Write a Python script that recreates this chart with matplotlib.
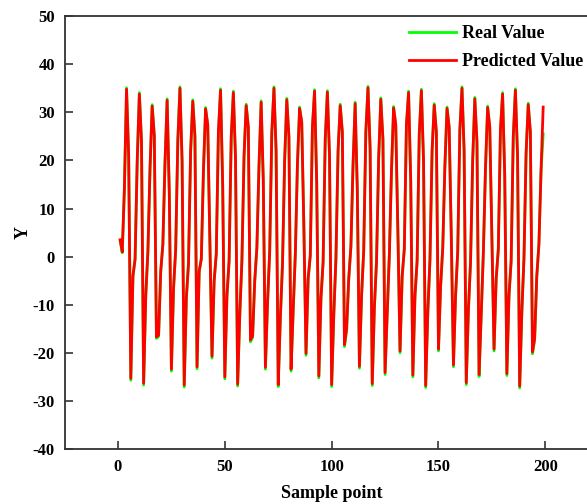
import matplotlib
matplotlib.use("Agg")
import matplotlib.pyplot as plt

sample = list(range(1, 200))

predicted = [
    3.5, 1.0, 14.0, 34.8, 21.0, -25.3, -4.0, -0.6, 20.0, 33.8,
    24.0, -26.3, -8.0, 1.0, 18.5, 31.3, 25.0, -16.7, -16.3, -3.0,
    2.5, 19.5, 32.5, 13.5, -23.4, -6.5, 1.5, 24.0, 35.0, 20.0,
    -26.7, -8.5, -1.5, 22.0, 32.3, 25.0, -22.9, -3.0, -0.5, 18.0,
    30.7, 27.5, 3.0, -20.7, -5.0, 0.5, 26.0, 34.6, 15.0, -25.0,
    -8.0, -1.0, 25.0, 34.1, 20.5, -26.5, -12.0, -0.8, 21.0, 31.4,
    27.0, -17.3, -16.5, -5.0, 1.8, 19.0, 32.1, 16.0, -23.0, -9.5,
    1.0, 26.0, 35.0, 22.0, -26.6, -12.5, -1.5, 20.0, 32.6, 25.0,
    -23.4, -11.0, 0.5, 19.5, 30.8, 28.0, 6.0, -20.1, -4.5, 0.2,
    27.0, 34.4, 15.5, -24.8, -8.5, -1.2, 24.5, 34.2, 21.0, -26.6,
    -12.0, -0.5, 22.0, 31.4, 26.0, -18.3, -15.0, -4.5, 2.0, 19.0,
    31.8, 14.0, -22.8, -8.0, 1.2, 26.0, 35.1, 22.5, -26.4, -10.5,
    -1.0, 20.5, 32.7, 24.5, -24.1, -12.0, 0.3, 18.0, 30.9, 27.5,
    5.0, -19.6, -4.0, 1.5, 27.5, 34.1, 16.0, -24.6, -8.0, -1.0,
    25.5, 34.5, 20.0, -26.8, -11.5, -0.8, 22.0, 31.5, 26.0, -19.2,
    -6.0, 1.8, 19.0, 30.8, 27.0, 4.0, -22.5, -8.0, 1.0, 26.5,
    35.0, 22.0, -26.2, -11.0, -1.2, 20.0, 32.8, 24.0, -24.5, -12.0,
    0.8, 18.5, 31.0, 27.0, 3.5, -19.2, -4.5, 1.5, 26.5, 33.8,
    17.0, -24.3, -8.0, -1.0, 25.0, 34.6, 21.0, -26.9, -11.5, -0.5,
    21.5, 31.6, 26.0, -19.8, -17.0, -4.0, 2.5, 18.0, 31.1,
]

real = [
    3.3, 0.8, 14.3, 35.1, 20.8, -25.7, -4.2, -0.4, 19.7, 34.1,
    23.8, -26.7, -8.3, 1.2, 18.2, 31.6, 25.3, -17.0, -16.6, -3.2,
    2.7, 19.2, 32.8, 13.2, -23.8, -6.8, 1.3, 24.3, 35.3, 19.7,
    -27.1, -8.7, -1.3, 21.7, 32.6, 25.3, -23.3, -3.3, -0.3, 17.7,
    31.0, 27.2, 3.3, -21.1, -5.3, 0.7, 25.7, 34.9, 14.7, -25.4,
    -8.3, -0.8, 24.7, 34.4, 20.2, -26.9, -12.3, -0.6, 20.7, 31.7,
    26.7, -17.7, -16.8, -5.2, 2.0, 18.7, 32.4, 15.7, -23.4, -9.8,
    1.2, 25.7, 35.3, 21.7, -27.0, -12.8, -1.3, 19.7, 32.9, 24.7,
    -23.8, -11.3, 0.7, 19.2, 31.1, 27.7, 6.3, -20.5, -4.8, 0.4,
    26.7, 34.7, 15.2, -25.2, -8.8, -1.0, 24.2, 34.5, 20.7, -27.0,
    -12.3, -0.3, 21.7, 31.7, 25.7, -18.7, -15.3, -4.7, 2.2, 18.7,
    32.1, 13.7, -23.2, -8.3, 1.4, 25.7, 35.4, 22.2, -26.8, -10.8,
    -0.8, 20.2, 33.0, 24.2, -24.5, -12.3, 0.5, 17.7, 31.2, 27.2,
    5.3, -20.0, -4.3, 1.7, 27.2, 34.4, 15.7, -25.0, -8.3, -0.8,
    25.2, 34.8, 19.7, -27.2, -11.8, -0.6, 21.7, 31.8, 25.7, -19.6,
    -6.3, 2.0, 18.7, 31.1, 26.7, 4.3, -22.9, -8.3, 1.2, 26.2,
    35.3, 21.7, -26.6, -11.3, -1.0, 19.7, 33.1, 23.7, -24.9, -12.3,
    1.0, 18.2, 31.3, 26.7, 3.8, -19.6, -4.8, 1.7, 26.2, 34.1,
    16.7, -24.7, -8.3, -0.8, 24.7, 34.9, 20.7, -27.3, -11.8, -0.3,
    21.2, 31.9, 25.7, -20.2, -17.3, -4.2, 2.7, 17.7, 25.5,
]

xticks = [0, 50, 100, 150, 200]
yticks = [-40, -30, -20, -10, 0, 10, 20, 30, 40, 50]

plt.rcParams['font.family'] = ['Liberation Serif', 'DejaVu Serif']
plt.rcParams['font.weight'] = 'bold'
plt.rcParams['axes.unicode_minus'] = False

fig = plt.figure(figsize=(5.87, 5.04), dpi=100)
ax = fig.add_axes([0.110, 0.109, 0.910, 0.859])

ax.plot(sample, real, color='#00ff00', lw=2.0, label='Real Value')
ax.plot(sample, predicted, color='#ff0000', lw=2.0, label='Predicted Value')

ax.set_xlim(-25, 225)
ax.set_ylim(-40, 50)
ax.set_xticks(xticks)
ax.set_yticks(yticks)

spine_c = '#333333'
for s in ['left', 'bottom', 'top']:
    ax.spines[s].set_color(spine_c)
    ax.spines[s].set_linewidth(1.3)
ax.spines['right'].set_visible(False)

ax.tick_params(direction='in', length=6, width=1.2, color=spine_c,
               labelsize=12, pad=7)
for lab in ax.get_xticklabels() + ax.get_yticklabels():
    lab.set_fontweight('bold')

ax.set_xlabel('Sample point', fontsize=13, fontweight='bold', labelpad=7)
ax.set_ylabel('Y', fontsize=13, fontweight='bold', labelpad=1)

leg = ax.legend(loc='upper left', bbox_to_anchor=(0.697, 0.950),
                bbox_transform=fig.transFigure, frameon=False,
                prop={'family': 'Liberation Serif', 'weight': 'bold', 'size': 13},
                handlelength=2.6, handletextpad=0.3, labelspacing=0.62,
                borderpad=0, borderaxespad=0)

fig.savefig('out.png', dpi=100)
